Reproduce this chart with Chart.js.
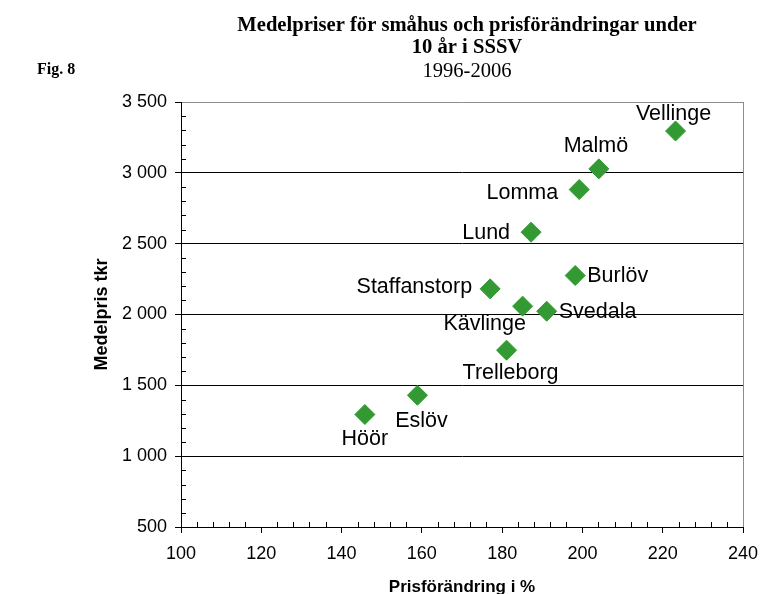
<!DOCTYPE html>
<html>
<head>
<meta charset="utf-8">
<script src="https://cdn.jsdelivr.net/npm/chart.js@4.4.0/dist/chart.umd.min.js"></script>
<style>
html,body{margin:0;padding:0;background:#fff;}
#c{display:block;}
</style>
</head>
<body>
<canvas id="c" width="760" height="594"></canvas>
<script>
// ---- data ----
const municipalities = ["Vellinge","Malmö","Lomma","Lund","Burlöv","Staffanstorp","Kävlinge","Svedala","Trelleborg","Eslöv","Höör"];
const priceChange = [223.2, 204.1, 199.2, 187.2, 198.2, 177.0, 185.1, 191.1, 181.1, 158.9, 145.8];
const avgPrice = [3295, 3028, 2882, 2581, 2275, 2181, 2059, 2023, 1748, 1430, 1294];
const xTicks = [100, 120, 140, 160, 180, 200, 220, 240];
const yTicks = [500, 1000, 1500, 2000, 2500, 3000, 3500];
const titleLines = ["Medelpriser för småhus och prisförändringar under", "10 år i SSSV", "1996-2006"];
const figLabel = "Fig. 8";
const xTitle = "Prisförändring i %";
const yTitle = "Medelpris tkr";

// ---- label placement (style, not data) ----
const labelPlacement = [
  {align:"center", dx:-2,  dy:-17},
  {align:"center", dx:-3,  dy:-23},
  {align:"right",  dx:-21, dy:4},
  {align:"right",  dx:-21, dy:1},
  {align:"left",   dx:12,  dy:1},
  {align:"right",  dx:-18, dy:-2},
  {align:"center", dx:-38, dy:18},
  {align:"left",   dx:12,  dy:1},
  {align:"center", dx:4,   dy:23},
  {align:"center", dx:4,   dy:26},
  {align:"center", dx:0,   dy:25}
];

const points = priceChange.map((x, i) => ({x: x, y: avgPrice[i]}));

function fmtThousands(v) {
  const s = String(Math.round(v));
  return s.length > 3 ? s.slice(0, s.length - 3) + " " + s.slice(-3) : s;
}

const decorPlugin = {
  id: "decor",
  afterDraw(chart) {
    const ctx = chart.ctx;
    const area = chart.chartArea;
    const xs = chart.scales.x, ys = chart.scales.y;
    ctx.save();
    // right border
    ctx.strokeStyle = "#8c8c8c";
    ctx.lineWidth = 1;
    ctx.beginPath();
    ctx.moveTo(Math.round(area.right) + 0.5, Math.round(area.top));
    ctx.lineTo(Math.round(area.right) + 0.5, Math.round(area.bottom));
    ctx.stroke();
    // minor ticks
    ctx.strokeStyle = "#000";
    ctx.beginPath();
    for (let v = ys.min; v <= ys.max; v += 100) {
      if (v % 500 === 0) continue;
      const py = Math.round(ys.getPixelForValue(v)) + 0.5;
      ctx.moveTo(area.left, py);
      ctx.lineTo(area.left + 5, py);
    }
    for (let v = xs.min; v <= xs.max; v += 4) {
      if (v % 20 === 0) continue;
      const px = Math.round(xs.getPixelForValue(v)) + 0.5;
      ctx.moveTo(px, area.bottom + 1);
      ctx.lineTo(px, area.bottom - 5);
    }
    ctx.stroke();
    // data labels
    const meta = chart.getDatasetMeta(0);
    ctx.fillStyle = "#000";
    ctx.font = "21.5px 'Liberation Sans', Arial, sans-serif";
    ctx.textBaseline = "middle";
    meta.data.forEach((el, i) => {
      const p = labelPlacement[i];
      ctx.textAlign = p.align;
      ctx.fillText(municipalities[i], el.x + p.dx, el.y + p.dy);
    });
    // titles
    const cx = (area.left + area.right) / 2 + 5;
    ctx.textAlign = "center";
    ctx.textBaseline = "alphabetic";
    ctx.font = "bold 20.6px 'Liberation Serif', 'Times New Roman', serif";
    ctx.fillText(titleLines[0], cx, 31);
    ctx.fillText(titleLines[1], cx, 53);
    ctx.font = "20.6px 'Liberation Serif', 'Times New Roman', serif";
    ctx.fillText(titleLines[2], cx, 77);
    ctx.textAlign = "left";
    ctx.font = "bold 16px 'Liberation Serif', 'Times New Roman', serif";
    ctx.fillText(figLabel, 37, 74);
    ctx.restore();
  }
};

new Chart(document.getElementById("c"), {
  type: "scatter",
  data: {
    datasets: [{
      data: points,
      pointStyle: "rectRot",
      pointRadius: 10,
      pointHoverRadius: 10,
      backgroundColor: "#339933",
      borderColor: "#339933",
      borderWidth: 1
    }]
  },
  options: {
    responsive: false,
    animation: false,
    devicePixelRatio: 1,
    layout: {padding: {top: 102, right: 17, left: 91, bottom: 0}},
    plugins: {legend: {display: false}, tooltip: {enabled: false}},
    scales: {
      x: {
        type: "linear",
        min: xTicks[0],
        max: xTicks[xTicks.length - 1],
        afterBuildTicks(scale) { scale.ticks = xTicks.map(v => ({value: v})); },
        afterFit(scale) { scale.height = 67; scale.paddingRight = 14; scale.paddingLeft = 14; },
        ticks: {
          color: "#000",
          padding: 10,
          font: {family: "'Liberation Sans', Arial, sans-serif", size: 18},
          maxRotation: 0
        },
        grid: {drawOnChartArea: false, drawTicks: true, tickLength: 6, tickColor: "#000"},
        border: {color: "#000", width: 1},
        title: {
          display: true,
          text: xTitle,
          color: "#000",
          font: {family: "'Liberation Sans', Arial, sans-serif", size: 17, weight: "bold", lineHeight: 0.8},
          padding: {top: 0, bottom: 0}
        }
      },
      y: {
        type: "linear",
        min: yTicks[0],
        max: yTicks[yTicks.length - 1],
        afterBuildTicks(scale) { scale.ticks = yTicks.map(v => ({value: v})); },
        afterFit(scale) { scale.width = 90; },
        ticks: {
          color: "#000",
          padding: 8,
          font: {family: "'Liberation Sans', Arial, sans-serif", size: 18},
          callback: (v) => fmtThousands(v)
        },
        grid: {
          color: (c) => (c.tick && c.tick.value === yTicks[yTicks.length - 1]) ? "#8c8c8c" : "#000",
          lineWidth: 1,
          tickLength: 6,
          tickColor: "#000"
        },
        border: {color: "#000", width: 1},
        title: {
          display: true,
          text: yTitle,
          color: "#000",
          font: {family: "'Liberation Sans', Arial, sans-serif", size: 18, weight: "bold", lineHeight: 1.2},
          padding: {top: 0, bottom: 0}
        }
      }
    }
  },
  plugins: [decorPlugin]
});
</script>
</body>
</html>
